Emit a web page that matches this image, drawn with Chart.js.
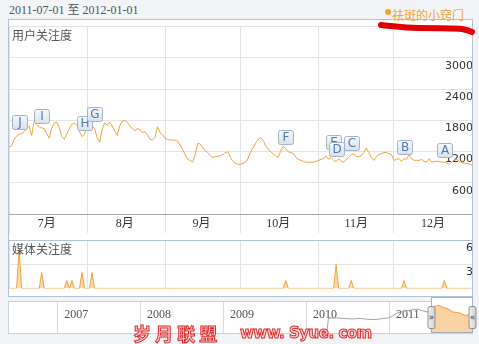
<!DOCTYPE html>
<html>
<head>
<meta charset="utf-8">
<script src="https://cdn.jsdelivr.net/npm/chart.js@4.4.0/dist/chart.umd.min.js"></script>
<style>
    html, body { margin: 0; padding: 0; width: 479px; height: 344px; overflow: hidden; background: #f2f4f7; position: relative; }
    canvas { position: absolute; display: block; }
    .txt { position: absolute; white-space: nowrap; line-height: 12px; }
    #range { left: 9px; top: 4px; font: 12px "Liberation Serif", "Noto Sans CJK SC"; color: #555; line-height: 13px; }
    #keyword { left: 392px; top: 6px; font: 12px "Noto Sans CJK SC"; color: #f0a23c; }
    #dot { position: absolute; left: 385px; top: 9px; width: 6px; height: 6px; border-radius: 50%; background: #f5a030; }
    #frame { position: absolute; left: 8px; top: 19px; width: 465px; height: 278px; box-sizing: border-box; border: 1px solid #b5c4d5; background: #fff; }
    #navFrame { position: absolute; left: 8px; top: 301px; width: 465px; height: 33px; box-sizing: border-box; border: 1px solid #c9d1db; background: #fff; }
    .panelTitle { font: 12px "Noto Sans CJK SC"; color: #555; }
    .mark { position: absolute; white-space: nowrap; font-weight: bold; color: #fbd3d3; -webkit-text-stroke: 1px #e02a2a; }
</style>
</head>
<body>
<div id="frame"></div>
<div id="navFrame"></div>
<div id="range" class="txt">2011-07-01 至 2012-01-01</div>
<div id="dot"></div>
<div id="keyword" class="txt">祛斑的小窍门</div>
<canvas id="userChart" width="463" height="214" style="left:9px;top:19px"></canvas>
<canvas id="mediaChart" width="463" height="63" style="left:9px;top:233px"></canvas>
<canvas id="navChart" width="470" height="36" style="left:9px;top:297px"></canvas>
<div class="txt panelTitle" style="left:12px;top:26px">用户关注度</div>
<div class="txt panelTitle" style="left:12px;top:240px">媒体关注度</div>
<svg style="position:absolute;left:0;top:0" width="479" height="40">
    <path d="M381,25 C392,26 404,28 418,28 C435,28 452,28 462,29 C467,30 470,31 472,32" stroke="#e30000" stroke-width="6" fill="none" stroke-linecap="round"/>
</svg>
<div class="mark" style="left:133px;top:320px;font-size:18px;font-family:'Noto Sans CJK SC'">岁 月 联 盟</div>
<div class="mark" style="left:240px;top:324px;font-size:15px;font-family:'DejaVu Sans';letter-spacing:-0.5px">www. Syue. com</div>

<script>
// 用户关注度, one value per day from 2011-07-01 to 2012-01-01
const userValues = [
    1290, 1305, 1435, 1490, 1530, 1545, 1580, 1640, 1690, 1510,
    1785, 1710, 1675, 1655, 1640, 1545, 1455, 1655, 1750, 1765,
    1655, 1490, 1435, 1545, 1640, 1730, 1750, 1710, 1580, 1490,
    1525, 1730, 1750, 1690, 1640, 1470, 1380, 1620, 1750, 1710,
    1765, 1690, 1600, 1510, 1690, 1785, 1800, 1765, 1690, 1640,
    1600, 1640, 1620, 1565, 1580, 1525, 1435, 1420, 1470, 1675,
    1565, 1525, 1455, 1435, 1420, 1420, 1420, 1400, 1325, 1235,
    1140, 1050, 1030, 995, 1140, 1360, 1345, 1270, 1215, 1180,
    1120, 1085, 1105, 1105, 1120, 1140, 1180, 1195, 1085, 1010,
    975, 955, 955, 975, 995, 1065, 1195, 1270, 1360, 1435,
    1470, 1420, 1305, 1250, 1195, 1160, 1120, 1085, 1215, 1305,
    1250, 1195, 1180, 1160, 1085, 1050, 1030, 1010, 995, 995,
    995, 995, 1010, 1030, 1050, 1065, 1120, 1050, 1085, 1030,
    1010, 1065, 1010, 995, 1050, 1085, 1140, 1160, 1105, 1105,
    1120, 1180, 1270, 1180, 1085, 1030, 1105, 1140, 1160, 1180,
    1180, 1160, 1140, 1030, 1050, 1065, 1010, 1065, 1050, 1140,
    1065, 1030, 1030, 1030, 1050, 1010, 995, 1065, 995, 1010,
    1010, 1010, 995, 995, 975, 955, 995, 1030, 1050, 1010,
    995, 975, 975, 955, 940
];

// month grid (day index of each 1st) and month labels (mid month)
const monthStarts = [0, 31, 62, 92, 123, 153, 184];
const monthMids = [15, 46, 76.5, 107, 138, 168.5];
const monthLabels = ['7月', '8月', '9月', '10月', '11月', '12月'];

// news flags
const flagLetters = ['J', 'I', 'H', 'G', 'F', 'E', 'D', 'C', 'B', 'A'];
const flagDays = [4, 13, 30, 34, 110, 129, 130, 136, 157, 173];

// 媒体关注度 (sparse: day index -> value)
const mediaDays = [4, 13, 23, 25, 29, 33, 110, 130, 136, 157, 173];
const mediaValues = [5, 2, 1, 1, 2, 2, 1, 3, 1, 1, 1];

// navigator overview
const navYearTicks = [2007, 2008, 2009, 2010, 2011];
const navYears = [2010.25, 2010.27, 2010.37, 2010.47, 2010.56, 2010.65, 2010.74, 2010.83, 2010.92, 2011.0,
    2011.05, 2011.1, 2011.19, 2011.27, 2011.34, 2011.4, 2011.46, 2011.5, 2011.55, 2011.61,
    2011.66, 2011.7, 2011.77, 2011.85, 2011.92, 2011.96, 2012.0];
const navValues = [0, 880, 900, 860, 840, 870, 820, 800, 860, 900,
    1050, 1200, 1310, 1370, 1430, 1330, 1250, 1450, 1600, 1640,
    1500, 1480, 1250, 1200, 1050, 1100, 1000];
const selStart = 2011.5;
const selEnd = 2012.0;

Chart.defaults.animation = false;

const mediaSeries = userValues.map(() => 0);
mediaDays.forEach((d, i) => { mediaSeries[d] = mediaValues[i]; });

function monthGridColor(c) {
    return c.tick && monthStarts.includes(c.tick.value) ? '#dfe3e8' : 'rgba(0,0,0,0)';
}

const baseOptions = {
    responsive: false,
    devicePixelRatio: 1,
    events: [],
    layout: { padding: 0 },
    plugins: { legend: { display: false }, tooltip: { enabled: false } }
};

/**
 * Draws the little lettered news boxes above the user line.
 */
const flagPlugin = {
    id: 'flags',
    afterDatasetsDraw(chart) {
        const { ctx, scales: { x, y } } = chart;
        const boxes = flagDays.map((d, i) => ({
            letter: flagLetters[i],
            cx: x.getPixelForValue(d),
            py: y.getPixelForValue(userValues[d])
        }));
        boxes.forEach(b => { b.bottom = b.py - 5; });
        for (let i = 1; i < boxes.length; i++) {
            const a = boxes[i - 1], b = boxes[i];
            if (Math.abs(a.cx - b.cx) < 15) {
                if (a.py < b.py) a.bottom = Math.min(a.bottom, b.bottom - 7);
                else b.bottom = Math.min(b.bottom, a.bottom - 9);
            }
        }
        ctx.save();
        boxes.forEach(b => {
            const left = Math.round(b.cx - 7.5) + 0.5;
            const top = Math.round(b.bottom - 14) + 0.5;
            const g = ctx.createLinearGradient(0, top, 0, top + 14);
            g.addColorStop(0, '#f7f9fb');
            g.addColorStop(1, '#d9e1ea');
            ctx.beginPath();
            ctx.roundRect(left, top, 15, 14, 2);
            ctx.fillStyle = g;
            ctx.fill();
            ctx.strokeStyle = '#a5b4c5';
            ctx.lineWidth = 1;
            ctx.stroke();
            ctx.fillStyle = '#4d7bb8';
            ctx.font = '12px "DejaVu Sans"';
            ctx.textAlign = 'center';
            ctx.textBaseline = 'middle';
            ctx.fillText(b.letter, left + 7.5, top + 7.5);
        });
        ctx.restore();
    }
};

new Chart(document.getElementById('userChart').getContext('2d'), {
    type: 'line',
    data: {
        datasets: [{
            data: userValues.map((v, i) => ({ x: i, y: v })),
            borderColor: '#f3a340',
            borderWidth: 1,
            pointRadius: 0,
            tension: 0,
            fill: false
        }]
    },
    options: {
        ...baseOptions,
        scales: {
            x: {
                type: 'linear', min: 0, max: 184,
                afterBuildTicks: s => { s.ticks = monthStarts.concat(monthMids).sort((a, b) => a - b).map(v => ({ value: v })); },
                afterFit: s => { s.height = 19; },
                ticks: {
                    autoSkip: false, maxRotation: 0, padding: -16, color: '#333',
                    font: { family: '"Liberation Serif", "Noto Sans CJK SC"', size: 12 },
                    callback: v => { const i = monthMids.indexOf(v); return i < 0 ? '' : monthLabels[i]; }
                },
                grid: { color: monthGridColor, tickLength: 19, drawTicks: true },
                border: { color: '#a8a8a8' }
            },
            y: {
                position: 'right', min: 0, max: 3600,
                afterFit: s => { s.width = 0; },
                ticks: {
                    stepSize: 600, mirror: true, padding: 1, labelOffset: 8, color: '#333',
                    font: { family: 'DejaVu Sans', size: 11 },
                    callback: v => (v === 0 || v === 3600) ? '' : String(v)
                },
                grid: { color: '#e4e4e4', drawTicks: false },
                border: { display: false }
            }
        }
    },
    plugins: [flagPlugin]
});

new Chart(document.getElementById('mediaChart').getContext('2d'), {
    type: 'line',
    data: {
        datasets: [{
            data: mediaSeries.map((v, i) => ({ x: i, y: v })),
            borderColor: '#f3a340',
            backgroundColor: '#fbd9ab',
            borderWidth: 1,
            pointRadius: 0,
            tension: 0,
            fill: 'origin'
        }]
    },
    options: {
        ...baseOptions,
        scales: {
            x: {
                type: 'linear', min: 0, max: 184,
                afterBuildTicks: s => { s.ticks = monthStarts.map(v => ({ value: v })); },
                afterFit: s => { s.height = 0; },
                ticks: { display: false },
                grid: { color: monthGridColor, drawTicks: false },
                border: { display: false }
            },
            y: {
                position: 'right', min: 0, max: 6,
                afterFit: s => { s.width = 0; },
                ticks: {
                    stepSize: 3, mirror: true, padding: 1, labelOffset: 8, color: '#333',
                    font: { family: 'DejaVu Sans', size: 11 },
                    callback: v => v === 0 ? '' : String(v)
                },
                grid: {
                    drawTicks: false,
                    color: c => c.tick && c.tick.value === 6 ? '#b5c3d2' : (c.tick && c.tick.value === 0 ? 'rgba(0,0,0,0)' : '#e4e4e4')
                },
                border: { display: false }
            }
        }
    }
});

/**
 * Navigator: year labels, selection window and its two handles.
 */
const navPlugin = {
    id: 'nav',
    beforeDatasetsDraw(chart) {
        const { ctx, scales: { x }, chartArea } = chart;
        ctx.save();
        ctx.font = '12px "Liberation Serif"';
        ctx.fillStyle = '#555';
        ctx.textBaseline = 'middle';
        navYearTicks.forEach(yr => ctx.fillText(String(yr), x.getPixelForValue(yr) + 7, chartArea.top + 13));
        const x0 = Math.round(x.getPixelForValue(selStart)), x1 = Math.round(x.getPixelForValue(selEnd));
        ctx.fillStyle = '#fff';
        ctx.fillRect(x0, 0, x1 - x0, chartArea.bottom);
        ctx.restore();
    },
    afterDatasetsDraw(chart) {
        const { ctx, scales: { x }, chartArea } = chart;
        const x0 = Math.round(x.getPixelForValue(selStart)) + 0.5, x1 = Math.round(x.getPixelForValue(selEnd)) + 0.5;
        ctx.save();
        ctx.strokeStyle = '#a0b1c4';
        ctx.lineWidth = 1;
        ctx.strokeRect(x0, 0.5, x1 - x0, chartArea.bottom - 1);
        [[x0, '»'], [x1, '«']].forEach(([hx, ch]) => {
            const top = chartArea.top + 4.5;
            const g = ctx.createLinearGradient(hx - 3.5, 0, hx + 3.5, 0);
            g.addColorStop(0, '#f4f4f4');
            g.addColorStop(1, '#cdcdcd');
            ctx.beginPath();
            ctx.roundRect(hx - 3.5, top, 7, 22, 2);
            ctx.fillStyle = g;
            ctx.fill();
            ctx.strokeStyle = '#909090';
            ctx.stroke();
            ctx.fillStyle = '#333';
            ctx.font = '9px "DejaVu Sans"';
            ctx.textAlign = 'center';
            ctx.textBaseline = 'middle';
            ctx.fillText(ch, hx, top + 11);
        });
        ctx.restore();
    }
};

const navPoints = navYears.map((t, i) => ({ x: t, y: navValues[i] }));

new Chart(document.getElementById('navChart').getContext('2d'), {
    type: 'line',
    data: {
        datasets: [{
            data: navPoints.filter(p => p.x >= selStart),
            borderColor: '#f0a040',
            backgroundColor: '#f9d3a4',
            borderWidth: 1,
            pointRadius: 0,
            tension: 0,
            fill: 'origin'
        }, {
            data: navPoints.filter(p => p.x <= selStart),
            borderColor: '#a3a3a3',
            borderWidth: 1,
            pointRadius: 0,
            tension: 0,
            fill: false
        }]
    },
    options: {
        ...baseOptions,
        layout: { padding: { top: 5, right: 7, left: 0, bottom: 0 } },
        scales: {
            x: {
                type: 'linear', min: 2006.42, max: 2012.0,
                afterBuildTicks: s => { s.ticks = navYearTicks.map(v => ({ value: v })); },
                afterFit: s => { s.height = 0; },
                ticks: { display: false },
                grid: { color: '#d6d9de', drawTicks: false },
                border: { display: false }
            },
            y: { display: false, min: 0, max: 1850 }
        }
    },
    plugins: [navPlugin]
});
</script>
</body>
</html>
